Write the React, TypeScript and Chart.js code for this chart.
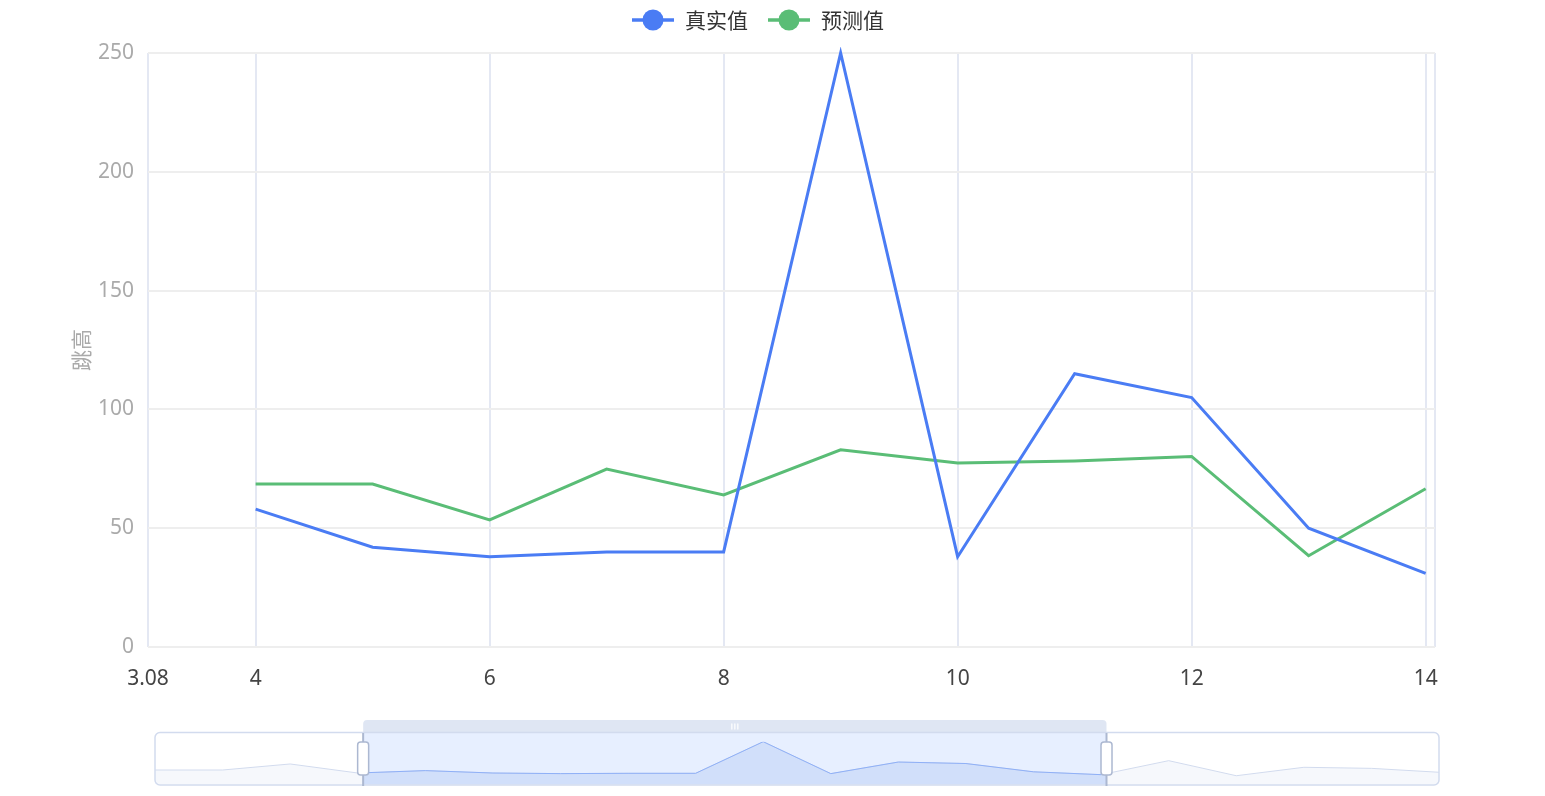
import React, { useEffect, useRef } from "react";
import { Chart, registerables } from "chart.js";

// ---- data ----
const xValues = [0, 1, 2, 3, 4, 5, 6, 7, 8, 9, 10, 11, 12, 13, 14, 15, 16, 17, 18, 19];
const realValues = [62, 62, 102, 42, 58, 42, 38, 40, 40, 250, 38, 115, 105, 50, 31, 124, 24, 80, 73, 47];
const predXValues = [4, 5, 6, 7, 8, 9, 10, 11, 12, 13, 14];
const predValues = [68.6, 68.6, 53.5, 74.9, 64, 83, 77.4, 78.3, 80.2, 38.4, 66.6];
const seriesNames = ["真实值", "预测值"];
const xTickValues = [3.08, 4, 6, 8, 10, 12, 14, 14.08];
const yTickStep = 50;
const zoomStart = 3.08;
const zoomEnd = 14.08;

const BLUE = "#4a7cf4";
const GREEN = "#5abd76";
const FONT = '"Noto Sans", "Noto Sans CJK SC", sans-serif';
const CJK = '"Noto Sans CJK SC", "Noto Sans", sans-serif';

function inWindow(xs: number[], ys: number[]) {
  const out: { x: number; y: number }[] = [];
  xs.forEach((x, i) => {
    if (x >= zoomStart && x <= zoomEnd) out.push({ x, y: ys[i] });
  });
  return out;
}

const legendPlugin = {
  id: "customLegend",
  afterDraw(chart: any) {
    const ctx = chart.ctx;
    const colors = [BLUE, GREEN];
    ctx.save();
    ctx.font = `21px ${CJK}`;
    const iconW = 42;
    const gapText = 11;
    const itemGap = 20;
    const widths = seriesNames.map((n) => ctx.measureText(n).width);
    const total = widths.reduce((a, b) => a + b, 0) + seriesNames.length * (iconW + gapText) + itemGap * (seriesNames.length - 1);
    let x = 758 - total / 2;
    const y = 20;
    seriesNames.forEach((name, i) => {
      ctx.strokeStyle = colors[i];
      ctx.lineWidth = 3.5;
      ctx.beginPath();
      ctx.moveTo(x, y);
      ctx.lineTo(x + iconW, y);
      ctx.stroke();
      ctx.fillStyle = colors[i];
      ctx.beginPath();
      ctx.arc(x + iconW / 2, y, 10.5, 0, Math.PI * 2);
      ctx.fill();
      ctx.fillStyle = "#333";
      ctx.textBaseline = "middle";
      ctx.textAlign = "left";
      ctx.fillText(name, x + iconW + gapText, y);
      x += iconW + gapText + widths[i] + itemGap;
    });
    ctx.restore();
  },
};

function roundRect(ctx: CanvasRenderingContext2D, x: number, y: number, w: number, h: number, r: number | number[]) {
  ctx.beginPath();
  (ctx as any).roundRect(x, y, w, h, r);
}

const sliderPlugin = {
  id: "sliderDecor",
  beforeDatasetsDraw(chart: any) {
    const ctx = chart.ctx;
    const a = chart.chartArea;
    const xs = chart.scales.x;
    const x0 = xs.getPixelForValue(zoomStart);
    const x1 = xs.getPixelForValue(zoomEnd);
    ctx.save();
    roundRect(ctx, a.left, 22.5, a.right - a.left, 52.5, 5);
    ctx.fillStyle = "#ffffff";
    ctx.fill();
    ctx.fillStyle = "rgba(135,175,255,0.2)";
    ctx.fillRect(x0, 23, x1 - x0, 52);
    ctx.restore();
  },
  beforeDatasetDraw(chart: any, args: any) {
    const ctx = chart.ctx;
    const a = chart.chartArea;
    const xs = chart.scales.x;
    const x0 = xs.getPixelForValue(zoomStart);
    const x1 = xs.getPixelForValue(zoomEnd);
    ctx.save();
    ctx.beginPath();
    if (args.index === 1) ctx.rect(x0, 0, x1 - x0, chart.height);
    else ctx.rect(a.left, 0, a.right - a.left, chart.height);
    ctx.clip();
  },
  afterDatasetDraw(chart: any) {
    chart.ctx.restore();
  },
  afterDatasetsDraw(chart: any) {
    const ctx = chart.ctx;
    const a = chart.chartArea;
    const xs = chart.scales.x;
    const x0 = xs.getPixelForValue(zoomStart);
    const x1 = xs.getPixelForValue(zoomEnd);
    ctx.save();
    roundRect(ctx, a.left, 22.5, a.right - a.left, 52.5, 5);
    ctx.strokeStyle = "#d2dbee";
    ctx.lineWidth = 1.5;
    ctx.stroke();
    roundRect(ctx, x0, 10, x1 - x0, 13, [4, 4, 0, 0]);
    ctx.fillStyle = "rgba(210,219,238,0.7)";
    ctx.fill();
    const cx = (x0 + x1) / 2;
    ctx.strokeStyle = "#ffffff";
    ctx.lineWidth = 1.2;
    [-3, 0, 3].forEach((d) => {
      ctx.beginPath();
      ctx.moveTo(cx + d, 13.5);
      ctx.lineTo(cx + d, 19.5);
      ctx.stroke();
    });
    [x0, x1].forEach((hx) => {
      ctx.strokeStyle = "#acb8d1";
      ctx.lineWidth = 2;
      ctx.beginPath();
      ctx.moveTo(hx, 23);
      ctx.lineTo(hx, 76);
      ctx.stroke();
      roundRect(ctx, hx - 5.5, 32, 11, 33, 3);
      ctx.fillStyle = "#ffffff";
      ctx.fill();
      ctx.lineWidth = 1.5;
      ctx.stroke();
    });
    ctx.restore();
  },
};

// register slider plugin first so its clip wraps the Filler's area drawing
Chart.register(sliderPlugin as any);
Chart.register(...registerables);

export default function App() {
  const mainRef = useRef<HTMLCanvasElement>(null);
  const sliderRef = useRef<HTMLCanvasElement>(null);

  useEffect(() => {
    const main = new Chart(mainRef.current!, {
      type: "line",
      data: {
        datasets: [
          {
            label: seriesNames[0],
            data: inWindow(xValues, realValues),
            borderColor: BLUE,
            backgroundColor: BLUE,
            borderWidth: 3,
            pointRadius: 0,
            tension: 0,
            fill: false,
            clip: 6,
          },
          {
            label: seriesNames[1],
            data: inWindow(predXValues, predValues),
            borderColor: GREEN,
            backgroundColor: GREEN,
            borderWidth: 3,
            pointRadius: 0,
            tension: 0,
            fill: false,
            clip: 6,
          },
        ],
      },
      options: {
        responsive: false,
        animation: false,
        devicePixelRatio: 1,
        layout: { padding: { left: 64, top: 53, right: 110, bottom: 0 } },
        plugins: { legend: { display: false }, tooltip: { enabled: false }, sliderDecor: false },
        scales: {
          x: {
            type: "linear",
            min: zoomStart,
            max: zoomEnd,
            afterBuildTicks: (s: any) => {
              s.ticks = xTickValues.map((v) => ({ value: v }));
            },
            afterFit: (s: any) => {
              s.height = 53;
            },
            border: { display: false },
            grid: { color: "#e4e8f3", lineWidth: 2, drawTicks: false },
            ticks: {
              padding: 19,
              color: "#444",
              font: { size: 21, family: FONT },
              autoSkip: false,
              maxRotation: 0,
              callback: (v: any) => (v === zoomEnd ? "" : String(v)),
            },
          },
          y: {
            min: 0,
            max: 250,
            afterFit: (s: any) => {
              s.width = 84;
            },
            border: { display: false },
            grid: { color: "#eeeeee", lineWidth: 2, drawTicks: false },
            ticks: {
              stepSize: yTickStep,
              padding: 14,
              color: "#aaaaaa",
              font: { size: 21, family: FONT },
            },
            title: {
              display: true,
              text: "跳高",
              color: "#aaaaaa",
              font: { size: 21, family: CJK },
              padding: { top: 4, bottom: 4 },
            },
          },
        },
      },
      plugins: [legendPlugin],
    } as any);

    const slider = new Chart(sliderRef.current!, {
      type: "line",
      data: {
        datasets: [
          {
            data: xValues.map((x, i) => ({ x, y: realValues[i] })),
            borderColor: "#d2dbee",
            backgroundColor: "rgba(210,219,238,0.2)",
            borderWidth: 1,
            pointRadius: 0,
            tension: 0,
            fill: "start",
            order: 2,
          },
          {
            data: xValues.map((x, i) => ({ x, y: realValues[i] })),
            borderColor: "#8fb0f7",
            backgroundColor: "rgba(143,176,247,0.2)",
            borderWidth: 1,
            pointRadius: 0,
            tension: 0,
            fill: "start",
            order: 1,
          },
        ],
      },
      options: {
        responsive: false,
        animation: false,
        devicePixelRatio: 1,
        layout: { padding: { left: 15, right: 16, top: 31.7, bottom: 12 } },
        plugins: { legend: { display: false }, tooltip: { enabled: false } },
        scales: {
          x: { type: "linear", min: xValues[0], max: xValues[xValues.length - 1], display: false },
          y: { min: -31, max: 250, display: false },
        },
      },
    } as any);

    return () => {
      main.destroy();
      slider.destroy();
    };
  }, []);

  return (
    <div style={{ position: "absolute", left: 0, top: 0, width: 1545, height: 796, background: "#fff" }}>
      <canvas ref={mainRef} width={1545} height={700} style={{ position: "absolute", left: 0, top: 0 }} />
      <canvas ref={sliderRef} width={1315} height={86} style={{ position: "absolute", left: 140, top: 710 }} />
    </div>
  );
}
